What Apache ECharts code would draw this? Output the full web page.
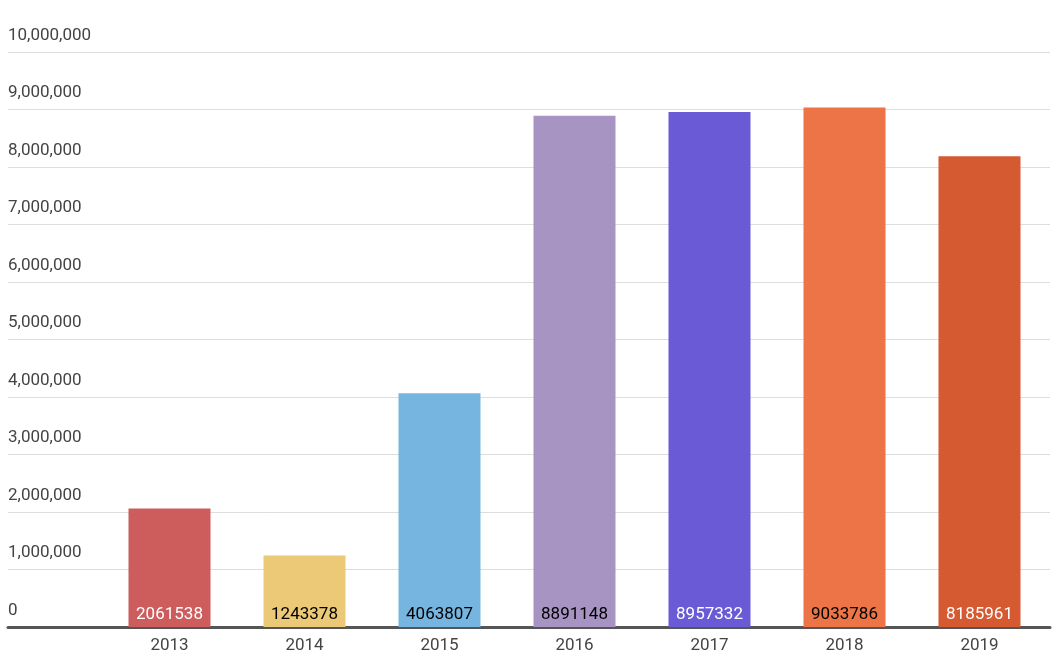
<!DOCTYPE html>
<html>
<head>
<meta charset="utf-8">
<script src="https://cdn.jsdelivr.net/npm/echarts@6/dist/echarts.min.js"></script>
<style>html,body{margin:0;background:#fff}#chart{width:1056px;height:660px}</style>
</head>
<body>
<div id="chart"></div>
<script>
const years = ['2013', '2014', '2015', '2016', '2017', '2018', '2019'];
const values = [2061538, 1243378, 4063807, 8891148, 8957332, 9033786, 8185961];
const barColors = ['#cd5c5c', '#ebc976', '#76b5e0', '#a794c2', '#6a5ad6', '#ec7446', '#d55a32'];
const labelColors = ['#fff', '#000', '#000', '#000', '#fff', '#000', '#fff'];

const chart = echarts.init(document.getElementById('chart'));
const font = 'Roboto';
chart.setOption({
  animation: false,
  grid: [
    // background grid: gridlines and y labels across the full width
    { left: 8, right: 6, top: 52, bottom: 33 },
    // bars
    { left: 102, right: 9, top: 52, bottom: 33 }
  ],
  xAxis: [
    { gridIndex: 0, type: 'value', show: true, min: 0, max: 1,
      axisLine: { show: true, lineStyle: { color: '#555', width: 3 } },
      axisTick: { show: false }, axisLabel: { show: false }, splitLine: { show: false } },
    { gridIndex: 1, type: 'category', data: years,
      axisLine: { show: false }, axisTick: { show: false },
      axisLabel: { color: '#444', fontSize: 17, fontFamily: font, margin: 10 } }
  ],
  yAxis: [
    { gridIndex: 0, type: 'value', min: 0, max: 10000000, interval: 1000000,
      axisLine: { show: false }, axisTick: { show: false },
      axisLabel: { inside: true, margin: 0, verticalAlign: 'bottom', padding: [0, 0, 8, 0],
        color: '#444', fontSize: 17, fontFamily: font },
      splitLine: { lineStyle: { color: '#ddd' } } },
    { gridIndex: 1, type: 'value', min: 0, max: 10000000, interval: 1000000, show: false,
      splitLine: { show: false } }
  ],
  series: [{
    type: 'bar', xAxisIndex: 1, yAxisIndex: 1, barWidth: 82,
    data: values.map((v, i) => ({
      value: v,
      itemStyle: { color: barColors[i] },
      label: { color: labelColors[i] }
    })),
    label: { show: true, position: 'insideBottom', distance: 4, fontSize: 17, fontFamily: font }
  }]
});
</script>
</body>
</html>
